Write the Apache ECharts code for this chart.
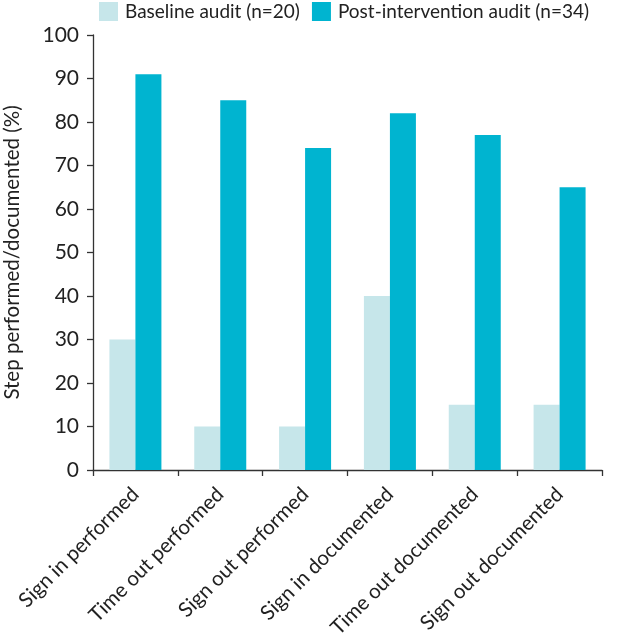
<!DOCTYPE html>
<html>
<head>
<meta charset="utf-8">
<script src="https://cdn.jsdelivr.net/npm/echarts@6/dist/echarts.min.js"></script>
<style>html,body{margin:0;padding:0;background:#fff;}#c{width:638px;height:639px;}</style>
</head>
<body>
<div id="c"></div>
<script>
const categories = ["Sign in performed","Time out performed","Sign out performed","Sign in documented","Time out documented","Sign out documented"];
const baseline = [30, 10, 10, 40, 15, 15];
const postIntervention = [91, 85, 74, 82, 77, 65];
const seriesNames = ["Baseline audit (n=20)", "Post-intervention audit (n=34)"];
const yTicks = {min: 0, max: 100, interval: 10};

const FONT = 'Lato, "Open Sans", sans-serif';
const chart = echarts.init(document.getElementById('c'), null, {renderer: 'canvas'});
chart.setOption({
  animation: false,
  textStyle: {fontFamily: FONT},
  legend: {
    top: -3, left: 94,
    itemWidth: 19, itemHeight: 19, itemGap: 12,
    icon: 'rect',
    textStyle: {fontFamily: FONT, fontSize: 19, color: '#222', padding: [0,0,0,2]},
    data: seriesNames
  },
  grid: {left: 93, top: 35, right: 36, bottom: 169, containLabel: false, outerBoundsMode: 'none'},
  xAxis: {
    type: 'category',
    data: categories,
    axisLine: {lineStyle: {color: '#333', width: 1.3}},
    axisTick: {show: true, length: 6, lineStyle: {color: '#333', width: 1.3}},
    axisLabel: {rotate: 45, fontSize: 20.5, color: '#222', fontFamily: FONT, margin: 21, interval: 0}
  },
  yAxis: {
    type: 'value',
    min: yTicks.min, max: yTicks.max, interval: yTicks.interval,
    name: 'Step performed/documented (%)',
    nameLocation: 'middle', nameGap: 70, nameMoveOverlap: false,
    nameTextStyle: {fontSize: 20.5, color: '#222', fontFamily: FONT},
    axisLine: {show: true, lineStyle: {color: '#333', width: 1.3}},
    axisTick: {show: true, length: 6, lineStyle: {color: '#333', width: 1.3}},
    axisLabel: {fontSize: 21, color: '#222', fontFamily: FONT, margin: 14},
    splitLine: {show: false}
  },
  series: [
    {name: seriesNames[0], type: 'bar', data: baseline, barWidth: 26, barGap: '0%', itemStyle: {color: '#c6e6ea'}},
    {name: seriesNames[1], type: 'bar', data: postIntervention, barWidth: 26, barGap: '0%', itemStyle: {color: '#00b4d0'}}
  ]
});
</script>
</body>
</html>
